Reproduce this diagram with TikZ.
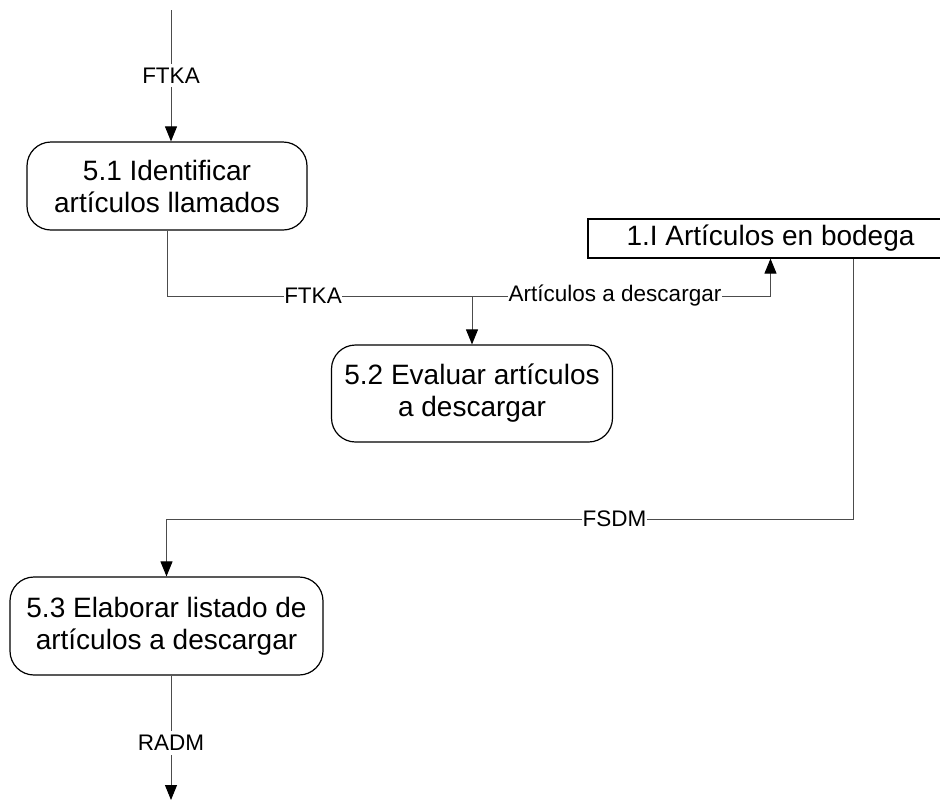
\documentclass[tikz,border=0pt]{standalone}
\usepackage{fontspec}
\setmainfont{Liberation Sans}
\usetikzlibrary{arrows.meta}
\begin{document}
\begin{tikzpicture}[x=1pt,y=-1pt,
  proc/.style={draw=black, line width=1.2pt, rounded corners=24pt, align=center,
    font=\fontsize{28}{32}\selectfont, inner sep=0pt},
  store/.style={draw=black, line width=1.2pt, font=\fontsize{28}{32}\selectfont, inner sep=0pt},
  flow/.style={draw=black!70, line width=1pt},
  tip/.style={-{Triangle[length=15pt,width=12pt,color=black]}},
  lbl/.style={fill=white, font=\fontsize{22.5}{24}\selectfont, inner xsep=0.5pt, inner ysep=4pt}]
\clip (0,0) rectangle (940,809);

% processes and data store
\node[proc, minimum width=280pt, minimum height=88pt] (b51) at (167,186)
  {5.1 Identificar\\artículos llamados};
\node[proc, minimum width=281pt, minimum height=97pt] (b52) at (472,393.5)
  {5.2 Evaluar artículos\\a descargar};
\node[proc, minimum width=313pt, minimum height=98pt] (b53) at (166.5,626)
  {5.3 Elaborar listado de\\artículos a descargar};
\node[store, minimum width=365pt, minimum height=39pt] (bod) at (770.5,238.5)
  {1.I Artículos en bodega};

% connector end points
\coordinate (src) at (171,10);
\coordinate (j1) at (472,296);
\coordinate (j2) at (bod.south |- j1);
\coordinate (k) at (853,519);
\coordinate (sink) at (171,800);

% flows
\draw[flow,tip] (src) -- node[lbl] (lsrc) {FTKA} (src |- b51.north);
\draw[flow,tip] (b51.south) |- (j2) -- (bod.south);
\draw[flow,tip] (j1) -- (b52.north);
\node[lbl] (lftka) at (313,296) {FTKA};
\node[lbl] (lart) at (615,296) {Artículos a descargar};
\draw[flow,tip] (bod.south -| k) |- (b53.north |- k) -- (b53.north);
\node[lbl] (lfsdm) at (614.5,519) {FSDM};
\draw[flow,tip] (b53.south -| sink) -- node[lbl, pos=0.54] (lradm) {RADM} (sink);
\end{tikzpicture}
\end{document}
